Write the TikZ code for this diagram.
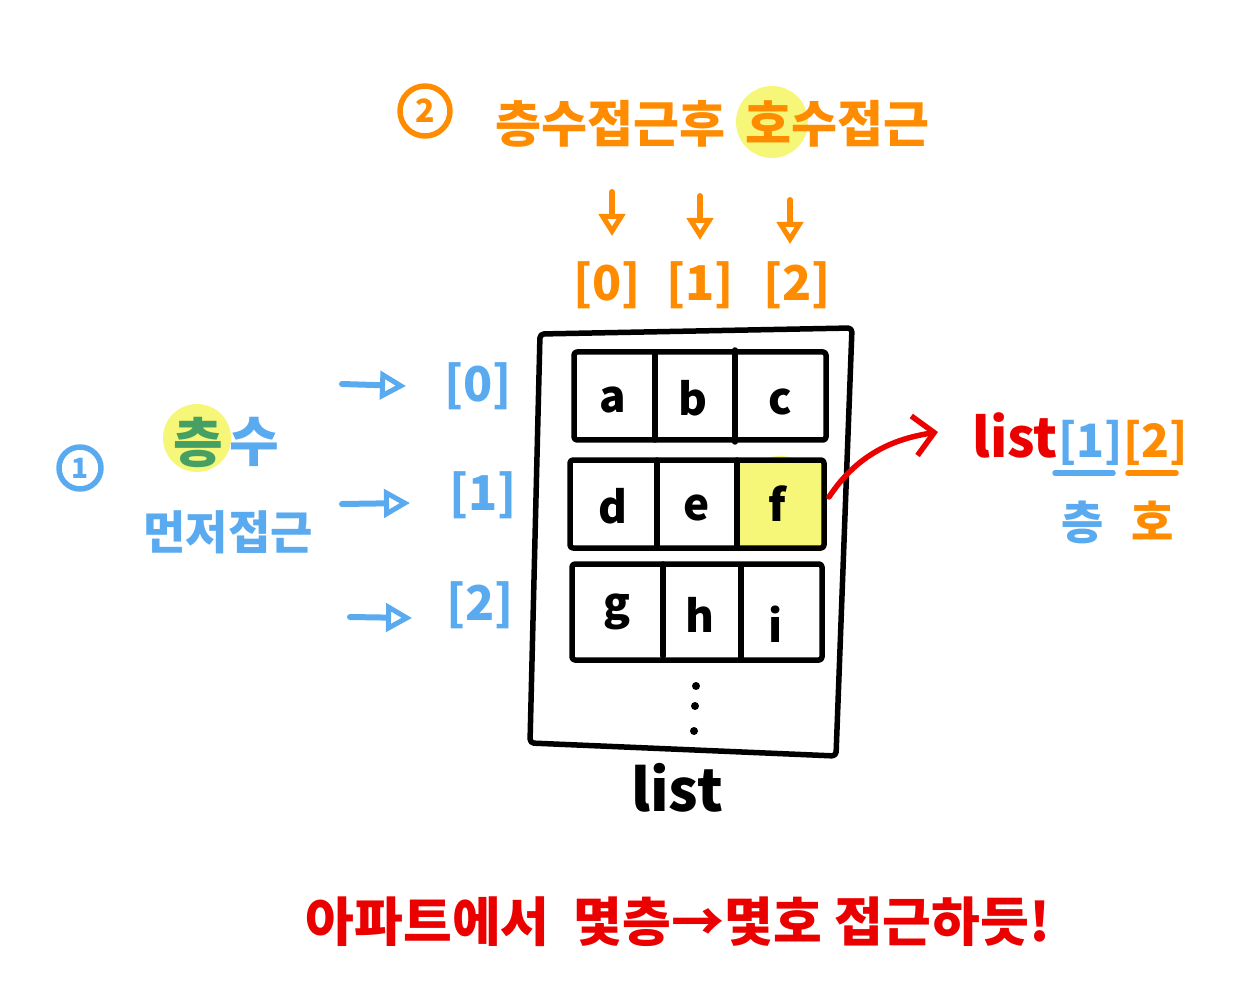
\documentclass[tikz,border=0pt]{standalone}
\usepackage{fontspec}
\setmainfont{Noto Sans CJK KR}
\usetikzlibrary{arrows.meta}
\definecolor{oj}{RGB}{255,140,0}
\definecolor{bl}{RGB}{90,170,240}
\definecolor{rd}{RGB}{235,0,0}
\definecolor{hl}{RGB}{246,246,120}
\definecolor{gr}{RGB}{70,160,100}
\newcommand\fsz[1]{\fontsize{#1}{#1}\selectfont\bfseries}
\tikzset{
  pen/.style={line width=5.5pt, line cap=round, line join=round},
  cellrow/.style={pen, draw=black, rounded corners=3pt},
  letter/.style={font=\fsz{44}, inner sep=0pt},
  idx/.style={font=\fsz{48}, inner sep=0pt},
  big/.style={font=\fsz{50}, inner sep=0pt},
  mid/.style={font=\fsz{46}, inner sep=0pt},
  blarrow/.style={line width=6pt, line cap=round, draw=bl, -{Triangle[open, length=26pt, width=28pt, line width=5pt]}},
  ojarrow/.style={line width=6pt, line cap=round, draw=oj, -{Triangle[open, length=22pt, width=26pt, line width=5pt]}},
  rdarrow/.style={line width=5.5pt, line cap=round, draw=rd, -{Straight Barb[length=20pt, width=40pt, line width=5.5pt]}},
  hlspot/.style={fill=hl, draw=none},
}
\begin{document}
\begin{tikzpicture}[x=1pt, y=-1pt]
\useasboundingbox (0,0) rectangle (1254,1000);
% highlights
\fill[hlspot] (772,122) circle (36);
\fill[hlspot] (197,438) circle (34);
\fill[hlspot] (780,500) circle (44);
\fill[hlspot] (737,462) rectangle (823,547);

% outer list box
\draw[pen, rounded corners=4pt] (540,334) -- (852,328) -- (836,756) -- (530,743) -- cycle;
% rows
\draw[cellrow] (574,352) rectangle (826,440);
\draw[pen] (655,352) -- (655,440);
\draw[pen] (735,350) -- (735,442);
\draw[cellrow] (570,460) rectangle (824,548);
\draw[pen] (657,460) -- (657,548);
\draw[pen] (737,460) -- (737,548);
\draw[cellrow] (572,564) rectangle (822,660);
\draw[pen] (663,564) -- (663,656);
\draw[pen] (741,566) -- (741,660);

\node[letter] (ca) at (613,400) {a};
\node[letter] (cb) at (693,398) {b};
\node[letter] (cc) at (780,402) {c};
\node[letter] (cd) at (613,506) {d};
\node[letter] (ce) at (697,508) {e};
\node[letter] (cf) at (777,504) {f};
\node[letter] (cg) at (617,612) {g};
\node[letter] (ch) at (700,615) {h};
\node[letter] (ci) at (776,624) {i};

\fill (696,686) circle (4);
\fill (695,706) circle (4);
\fill (694,731) circle (4);

\node[font=\fsz{58}, inner sep=0pt] (listlbl) at (677,788) {list};

% top orange
\node[draw=oj, pen, circle, minimum size=50pt, inner sep=0pt, text=oj, font=\fsz{32}] (c2) at (425,111) {2};
\node[big, text=oj, anchor=west] (t1) at (495,124) {층수접근후};
\node[big, text=oj, anchor=west] (t2) at (745,124) {호수접근};

\node[idx, text=oj] (o0) at (607,285) {[0]};
\node[idx, text=oj] (o1) at (700,285) {[1]};
\node[idx, text=oj] (o2) at (797,285) {[2]};
\coordinate (a0) at (612,192);
\coordinate (a1) at (700,196);
\coordinate (a2) at (790,200);
\coordinate (a0e) at (612,236);
\coordinate (a1e) at (700,240);
\coordinate (a2e) at (790,244);
\draw[ojarrow] (a0) -- (a0e);
\draw[ojarrow] (a1) -- (a1e);
\draw[ojarrow] (a2) -- (a2e);

% left blue
\node[draw=bl, pen, circle, minimum size=42pt, inner sep=0pt, text=bl, font=\fsz{28}] (c1) at (80,468) {1};
\node[font=\fsz{54}, inner sep=0pt, text=gr] (floor) at (198,442) {층};
\node[font=\fsz{54}, inner sep=0pt, text=bl, anchor=west] (su) at (229,442) {수};
\node[mid, text=bl] (first) at (228,532) {먼저접근};

\node[idx, text=bl] (b0) at (478,386) {[0]};
\node[idx, text=bl] (b1) at (483,495) {[1]};
\node[idx, text=bl] (b2) at (480,605) {[2]};
\coordinate (l0) at (342,384);
\coordinate (l1) at (342,504);
\coordinate (l2) at (350,617);
\coordinate (l0e) at (406,386);
\coordinate (l1e) at (410,503);
\coordinate (l2e) at (412,618);
\draw[blarrow] (l0) -- (l0e);
\draw[blarrow] (l1) -- (l1e);
\draw[blarrow] (l2) -- (l2e);

% right red
\node[font=\fsz{54}, inner sep=0pt, text=rd, anchor=base west] (rl) at (972,457) {list};
\node[font=\fsz{46}, inner sep=0pt, text=bl, anchor=base west] (r1) at (rl.base east) {[1]};
\node[font=\fsz{46}, inner sep=0pt, text=oj, anchor=base west] (r2) at (r1.base east) {[2]};
\coordinate (u1) at (1055,473);
\coordinate (u2) at (1128,473);
\draw[pen, draw=bl] (u1) -- ++(58,0);
\draw[pen, draw=oj] (u2) -- ++(48,0);
\node[mid, text=bl] (rf) at (1083,522) {층};
\node[mid, text=oj] (rh) at (1153,520) {호};
\coordinate (fs) at (829,497);
\coordinate (fe) at (938,432);
\draw[rdarrow] (fs) .. controls (860,450) and (900,438) .. (fe);

% bottom red
\node[font=\fsz{53}, inner sep=0pt, text=rd] (bottom) at (678,922) {아파트에서 \ 몇층→몇호 접근하듯!};
\end{tikzpicture}
\end{document}
